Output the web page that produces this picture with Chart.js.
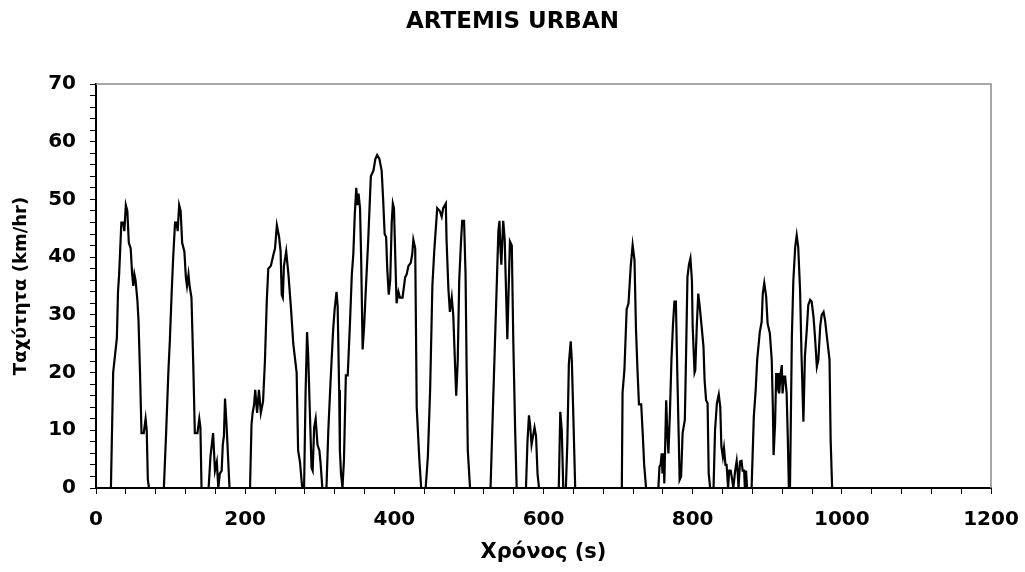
<!DOCTYPE html>
<html>
<head>
<meta charset="utf-8">
<title>ARTEMIS URBAN</title>
<script src="https://cdn.jsdelivr.net/npm/chart.js@4/dist/chart.umd.min.js"></script>
<style>
  html, body { margin: 0; padding: 0; background: #fff; }
  #cycle { display: block; }
</style>
</head>
<body>
<canvas id="cycle" width="1025" height="572"></canvas>
<script>
const title = 'ARTEMIS URBAN';
const xTitle = 'Χρόνος (s)';
const yTitle = 'Ταχύτητα (km/hr)';

// drive cycle, time in s
const seconds = [
  0, 20, 23, 25.5, 28, 29.5, 31, 34, 36.5, 38, 40, 42, 44, 46.5, 48.5, 50, 51.5, 53, 55.5, 57, 59, 61, 64, 66.5, 68, 69.5, 71,
  91, 94, 97, 99, 101.5, 103.5, 106, 108, 109.5, 111.5, 113.5, 115.5, 118.5, 120.5, 122, 124, 125.5, 128, 130.5, 132.5, 136, 138.5, 140, 141.5,
  151, 153.5, 157, 159.5, 162, 164, 166, 168.5, 170, 171.5, 173, 175, 179,
  206.5, 208.5, 210, 212, 213.5, 216, 218.5, 221, 224, 226.5, 229, 231, 234.5, 238, 240, 242.5, 245.5, 247.5, 249, 250.5, 252, 255, 258, 261.5, 264.5, 269, 271, 273.5, 276.5,
  279, 281, 283, 284.5, 287, 289, 290.5, 292.5, 294.5, 297, 299.5, 301, 303.5,
  309, 311.5, 314.5, 318, 320, 322.5, 324, 326, 327, 328.5, 330.5,
  332.5, 335, 337.5, 340.5, 343, 345, 347, 349, 350.5, 352, 354, 355.5, 357.5, 359.5, 362, 365, 368.5, 372, 374.5, 377, 380, 383, 385, 387, 389, 390.5, 392.5, 394.5,
  396.5, 398, 399.5, 401.5, 403, 405.5, 407.5, 411, 414.5, 416.5, 419, 422, 424, 425.5, 428, 430, 433.5, 436,
  442, 445, 448, 451, 453.5, 457.5, 461, 463.5, 465.5, 469, 470, 472.5, 474.5, 477, 479, 481.5, 483, 485, 487, 489.5, 491, 493.5, 495.5, 497, 498.5, 501.5,
  529, 532, 535, 537.5, 539.5, 541, 542, 543.5, 545, 546, 548, 549.5, 551.5, 553.5, 555, 557.5, 559.5, 562, 564,
  576.5, 578.5, 580.5, 582, 584, 586, 588, 590, 592, 594,
  620.5, 622.5, 624.5, 626.5, 630, 632, 634, 636.5, 638, 640, 642.5,
  705, 706, 708.5, 711.5, 714, 717, 719.5, 722, 724, 726, 728, 731, 733, 735, 737.5,
  754, 755.5, 757, 758.5, 759.5, 761, 762, 764.5, 766, 767.5, 769.5, 771.5, 773.5, 775.5, 777.5, 779.5, 781.5, 782.5, 784.5, 786.5, 789.5,
  791, 793, 795, 797, 799, 800, 802.5, 803.5, 805.5, 807.5, 809.5, 812, 814.5, 816, 818, 820, 821.5, 823.5,
  828, 830, 832.5, 835, 837, 838.5, 840.5, 842, 844, 845.5, 847.5, 849, 851, 853, 854.5, 857, 859, 860.5, 861.5, 863.5, 865.5, 867, 869, 870, 871.5, 873,
  879, 882, 884.5, 886.5, 890, 892.5, 894, 896, 898.5, 900.5, 903.5, 906, 907.5, 908.5, 910.5, 912, 913.5, 915, 916, 918, 919.5, 920.5, 922.5, 924, 926, 927.5, 929,
  930.5, 933, 935, 937.5, 939.5, 941.5, 944, 946, 948.5, 950.5, 953, 955, 957.5, 959.5, 962, 964, 966.5, 968.5, 971, 973, 975.5, 977.5, 980.5, 983.5, 985, 987, 993
];

// vehicle speed, km/h
const speedKmh = [
  0, 0, 20, 23, 26, 34, 37, 46, 46, 44.5, 49, 48, 42.5, 41.5, 37, 35, 37, 36, 32.5, 29, 20, 9.5, 9.5, 12, 10, 1.5, 0,
  0, 9.5, 20, 25.5, 34, 40, 46, 46, 44.5, 49, 48, 42.5, 41, 36.5, 35, 37, 35, 33, 21, 9.5, 9.5, 12, 10.5, 0,
  0, 5.5, 9.5, 3, 4.5, 0, 2.5, 3, 7.5, 9, 15.5, 11, 0,
  0, 11, 13, 14.5, 17, 13, 17, 13, 15, 22, 32.5, 38, 38.5, 40.5, 41.5, 45.5, 43.5, 41, 33.5, 33, 38.5, 41, 37, 31, 25, 20, 6.5, 4.5, 0,
  0, 16.5, 27, 23, 12, 3.5, 3, 10.5, 12, 7.5, 6.5, 4.5, 0,
  0, 10, 18.5, 27.5, 31, 34, 31.5, 17, 6.5, 2.5, 0,
  5, 19.5, 19.5, 28.5, 37, 40.5, 47.5, 52, 49, 51, 48.5, 40, 24, 28, 35, 43, 54, 55, 57, 57.7, 57, 55, 50, 44, 43.5, 38, 33.5, 36,
  46, 49.3, 48.5, 39, 32, 34, 33, 33, 36.5, 37, 38.5, 39, 40.5, 43, 41.5, 14, 5, 0,
  0, 5.5, 17, 35, 41, 48.5, 48, 47, 48.5, 49.3, 43, 34.5, 30.5, 33, 30, 21, 16, 22, 36, 43, 46.3, 46.3, 37, 20, 6.5, 0,
  0, 13, 25.5, 36, 44.5, 46.3, 42, 38.7, 43.5, 46.3, 43, 35.5, 25.8, 35.5, 42.7, 42, 25.5, 10, 0,
  0, 8, 12.6, 11, 7.5, 9, 10.5, 9, 2.5, 0,
  0, 13.2, 10, 0, 0, 8, 21.5, 25.4, 22, 12.5, 0,
  0, 16.5, 20.5, 31, 32, 38.5, 42.1, 39.5, 27.5, 20.5, 14.5, 14.5, 9.5, 4, 0,
  0, 3.7, 4, 6, 2.5, 6, 0.8, 15.2, 9.5, 6, 13, 22, 28, 32.3, 32.3, 19.3, 7.7, 1.4, 2, 9.5, 11.8,
  22, 36.5, 38.7, 39.8, 36, 28, 20, 20.4, 28, 33.7, 31.4, 28, 24.5, 18.7, 15.2, 14.7, 2.5, 0,
  0, 10, 14.7, 16.2, 14, 7.2, 5.4, 6.9, 4, 4, 0, 3, 3, 1.4, 0, 3, 4.7, 2.5, 0, 4.6, 4.7, 3, 3, 0, 3, 0,
  0, 12.4, 17, 22.2, 27, 28.8, 33.7, 35.5, 33.2, 28.5, 26.8, 22.2, 14, 5.7, 11.2, 19.9, 18.1, 19.9, 16.4, 19.9, 21.3, 16.4, 19.3, 19.3, 16.4, 8.9, 0,
  0, 26.2, 36, 41.8, 43.8, 41.8, 34.3, 22.8, 11.5, 22.8, 27.4, 31.7, 32.6, 32.3, 29.7, 26.2, 21, 22.2, 28, 30, 30.5, 29.1, 25.6, 22.2, 8.3, 0, 0
];

const xMin = 0, xMax = 1200, xStep = 40, xLabelEvery = 200;
const yMin = 0, yMax = 70, yStep = 2, yLabelEvery = 10;

const FONT = 'DejaVu Sans, Arial, sans-serif';

// gray frame on the top and right of the plot area
const plotFrame = {
  id: 'plotFrame',
  afterDraw(chart) {
    const {ctx, chartArea: a} = chart;
    ctx.save();
    ctx.strokeStyle = '#8c8c8c';
    ctx.lineWidth = 1.5;
    ctx.beginPath();
    ctx.moveTo(a.left, a.top);
    ctx.lineTo(a.right, a.top);
    ctx.lineTo(a.right, a.bottom);
    ctx.stroke();
    ctx.restore();
  }
};

new Chart(document.getElementById('cycle'), {
  type: 'line',
  data: {
    datasets: [{
      label: title,
      data: seconds.map((t, i) => ({x: t, y: speedKmh[i]})),
      borderColor: '#000',
      borderWidth: 2.2,
      pointRadius: 0,
      tension: 0,
      fill: false
    }]
  },
  options: {
    responsive: false,
    animation: false,
    devicePixelRatio: 1,
    layout: {padding: 0},
    plugins: {
      legend: {display: false},
      tooltip: {enabled: false},
      title: {
        display: true,
        text: title,
        color: '#000',
        font: {family: FONT, size: 23, weight: 'bold'},
        padding: {top: 8, bottom: 48.4}
      }
    },
    scales: {
      x: {
        type: 'linear',
        min: xMin,
        max: xMax,
        afterFit: s => {
          s.height = 84;
          // fixed gap right of the plot, whatever the end labels measure
          s.paddingLeft = 0;
          s.paddingRight = 34;
        },
        grid: {drawOnChartArea: false, drawTicks: true, tickLength: 6, tickColor: '#000'},
        border: {color: '#000', width: 2},
        ticks: {
          stepSize: xStep,
          autoSkip: false,
          maxRotation: 0,
          padding: 14,
          color: '#000',
          font: {family: FONT, size: 20, weight: 'bold'},
          callback: v => (v % xLabelEvery === 0 ? v : '')
        },
        title: {
          display: true,
          text: xTitle,
          color: '#000',
          font: {family: FONT, size: 21, weight: 'bold'},
          padding: {top: 0, bottom: 7}
        }
      },
      y: {
        min: yMin,
        max: yMax,
        afterFit: s => { s.width = 96; },
        grid: {drawOnChartArea: false, drawTicks: true, tickLength: 6, tickColor: '#000'},
        border: {color: '#000', width: 2},
        ticks: {
          stepSize: yStep,
          autoSkip: false,
          padding: 14,
          color: '#000',
          font: {family: FONT, size: 20, weight: 'bold'},
          callback: v => (v % yLabelEvery === 0 ? v : '')
        },
        title: {
          display: true,
          text: yTitle,
          color: '#000',
          font: {family: FONT, size: 18, weight: 'bold'},
          padding: {top: 11, bottom: 0}
        }
      }
    }
  },
  plugins: [plotFrame]
});
</script>
</body>
</html>
